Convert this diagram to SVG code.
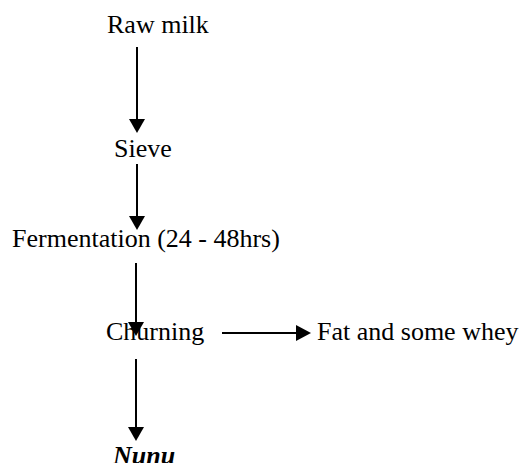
<svg xmlns="http://www.w3.org/2000/svg" width="527" height="463" viewBox="0 0 527 463">
<style>
text{font-family:"Liberation Serif","Times New Roman",serif;font-size:26px;fill:#000}
.em{font-weight:bold;font-style:italic}
.c line{stroke:#000;stroke-width:2}
.c path{fill:#000}
</style>
<rect width="527" height="463" fill="#fff"/>
<g id="raw"><text x="107" y="33">Raw milk</text></g>
<g id="sieve"><text x="114" y="157">Sieve</text></g>
<g id="ferm"><text x="12" y="247">Fermentation (24 - 48hrs)</text></g>
<g id="churn"><text x="106" y="340">Churning</text></g>
<g id="fat"><text x="317" y="340">Fat and some whey</text></g>
<g id="nunu"><text class="em" x="113" y="464">Nunu</text></g>
<g class="c" id="connectors">
<line x1="137" y1="47" x2="137" y2="122"/><path d="M129 119 L145 119 L137 133 Z"/>
<line x1="137" y1="164" x2="137" y2="219"/><path d="M129 216 L145 216 L137 230 Z"/>
<line x1="136" y1="263" x2="136" y2="325"/><path d="M128 322 L144 322 L136 336 Z"/>
<line x1="222" y1="333" x2="298" y2="333"/><path d="M296 325 L296 341 L311 333 Z"/>
<line x1="136" y1="359" x2="136" y2="430"/><path d="M128 427 L144 427 L136 441 Z"/>
</g>
</svg>
